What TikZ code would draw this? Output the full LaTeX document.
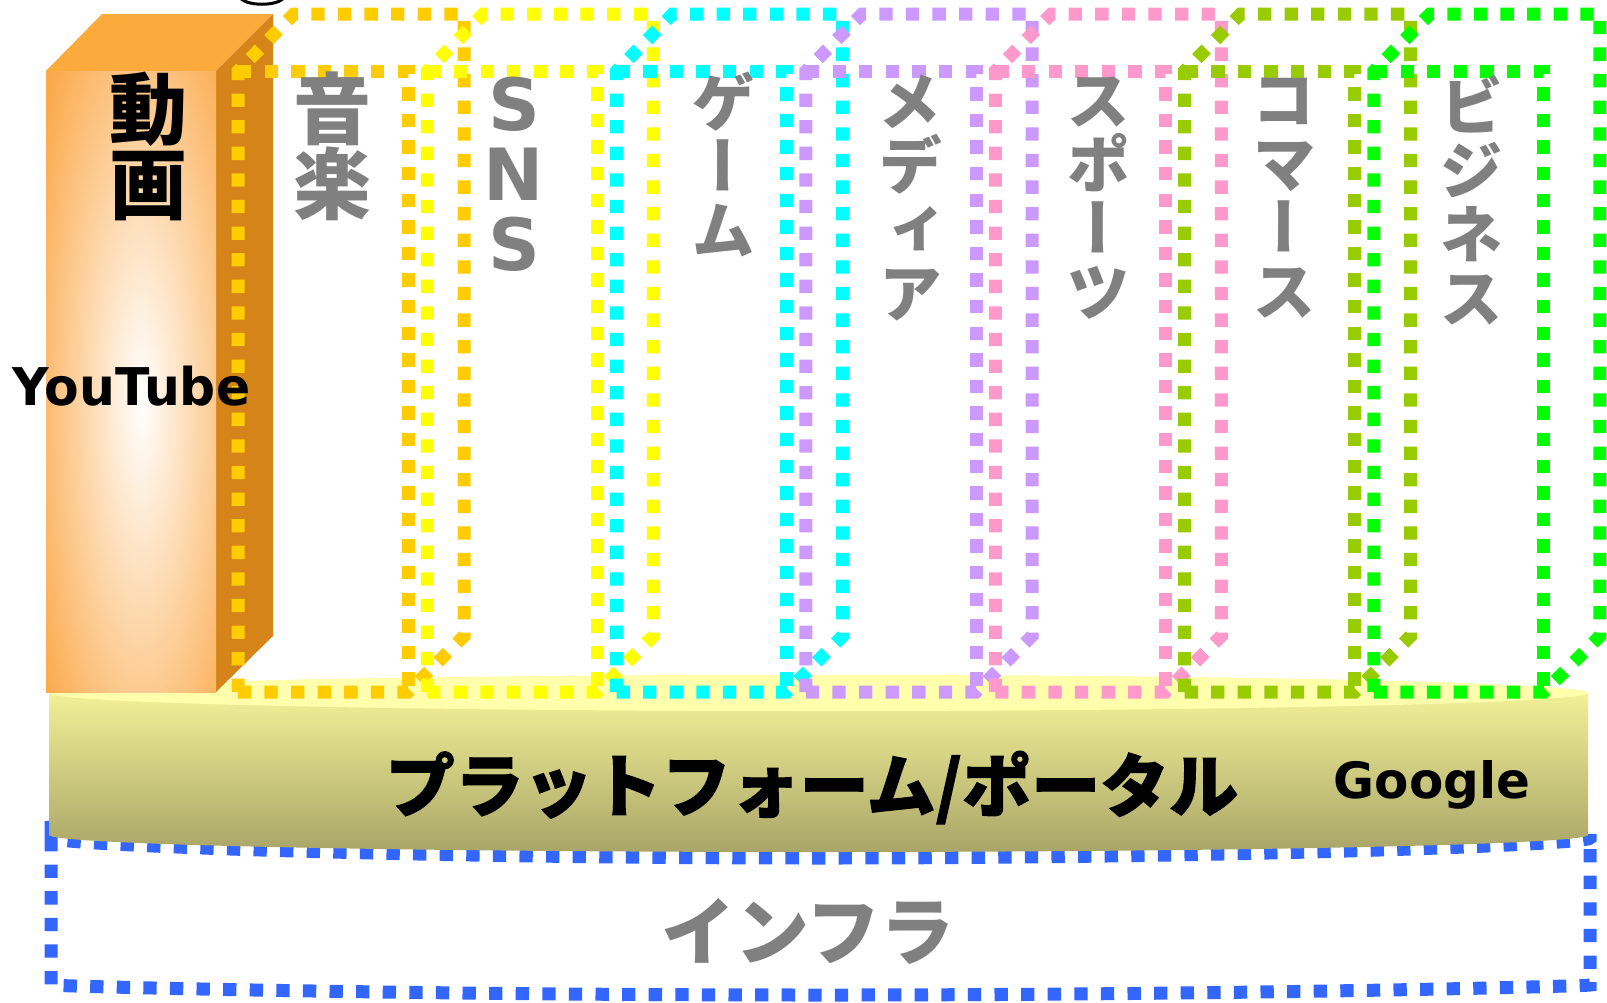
\documentclass[tikz,border=0pt]{standalone}
\usepackage{fontspec}
\usetikzlibrary{calc}
\newfontfamily\jp{Noto Sans CJK JP}
\newfontfamily\jpheavy{Noto Sans CJK JP}[BoldFeatures={FakeBold=1.5}]
\newfontfamily\jpv{Noto Sans CJK JP}[RawFeature=+vert]
\newfontfamily\dvs{DejaVu Sans}
\definecolor{cgold}{HTML}{FFCC00}
\definecolor{cyel}{HTML}{FFFF00}
\definecolor{ccyan}{HTML}{00FFFF}
\definecolor{clav}{HTML}{CC99FF}
\definecolor{cpink}{HTML}{FF99CC}
\definecolor{cyg}{HTML}{99CC00}
\definecolor{cgrn}{HTML}{00FF00}
\definecolor{cblue}{HTML}{3366FF}
\definecolor{txtgray}{HTML}{808080}
\definecolor{orfront}{HTML}{FBA94A}
\definecolor{ortop}{HTML}{FBAA3C}
\definecolor{orside}{HTML}{D5841A}
\definecolor{pftop}{HTML}{FAF99C}
\definecolor{pfmid}{HTML}{DCD983}
\definecolor{pfbot}{HTML}{A9A568}
\definecolor{pfpale}{HTML}{FFFFAC}
\tikzset{
  dotbox/.style={line width=13pt, dash pattern=on 13.3pt off 13.3pt},
  infraline/.style={draw=cblue, line width=13pt, dash pattern=on 13.3pt off 13.3pt, rounded corners=10pt},
  catlabel/.style={text=txtgray, font=\jpv\bfseries\fontsize{64}{64}\selectfont, align=center, anchor=north, inner sep=0pt},
  biglabel/.style={font=\jp\bfseries\fontsize{78}{75}\selectfont, align=center, anchor=north, inner sep=0pt},
}
\begin{document}
\begin{tikzpicture}[x=1pt,y=-1pt]
\useasboundingbox (0,0) rectangle (1607,1002);
\fill[white] (0,0) rectangle (1607,1002);

% infrastructure (blue dashed can)
\draw[infraline] (51,828) -- (51,975) arc[start angle=180,end angle=0,x radius=769.5,y radius=20]
  -- (1590,828) arc[start angle=0,end angle=180,x radius=769.5,y radius=30] -- cycle;

% platform
\shade[top color=pftop, middle color=pfmid, bottom color=pfbot]
  (49,693) -- (49,835) arc[start angle=180,end angle=0,x radius=769.5,y radius=17]
  -- (1588,693) arc[start angle=0,end angle=-180,x radius=769.5,y radius=18] -- cycle;
\fill[pfpale] (818.5,693) ellipse [x radius=769.5, y radius=18];

% orange solid prism
\fill[ortop] (46,71) -- (102,14) -- (273,14) -- (216,71) -- cycle;
\fill[orside] (216,71) -- (273,14) -- (273,636) -- (216,692) -- cycle;
\begin{scope}
  \clip (46,71) rectangle (216,692);
  \shade[inner color=white, outer color=orfront] (20,-80) rectangle (262,880);
\end{scope}

% black arc at top edge
\draw[line width=3pt] (241,-1) .. controls (250,6) and (274,6) .. (283,-1);

% dotted hollow prisms
\foreach \c [count=\i from 0] in {cgold,cyel,ccyan,clav,cpink,cyg,cgrn} {
  \pgfmathsetmacro\L{238+189.33*\i}
  \pgfmathsetmacro\R{\L+170}
  \draw[dotbox,draw=\c] (\L,692) -- (\L,71) -- (\L+56,14) -- (\R+56,14) -- (\R+56,636) -- (\R,692) -- cycle;
  \draw[dotbox,draw=\c] (\L,71) -- (\R,71) -- (\R,692);
}

% texts
\node[biglabel, text=black] (douga) at (148,72) {動\\画};
\node[anchor=base, inner sep=0pt, font=\dvs\bfseries\fontsize{52}{52}\selectfont] (youtube) at (131.5,405) {\scalebox{0.97}[1]{YouTube}};
\node[biglabel, text=txtgray] (ongaku) at (332,72) {音\\楽};
\node[anchor=north, inner sep=0pt, align=center, text=txtgray, font=\dvs\bfseries\fontsize{72}{70}\selectfont] (sns) at (514,77) {S\\N\\S};
\node[catlabel] (game) at (723,72) {ゲ\\ー\\ム};
\node[catlabel] (media) at (910,75) {メ\\デ\\ィ\\ア};
\node[catlabel] (sports) at (1098,77) {ス\\ポ\\ー\\ツ};
\node[catlabel] (commerce) at (1284,78) {コ\\マ\\ー\\ス};
\node[catlabel] (business) at (1471,75) {ビ\\ジ\\ネ\\ス};

\node[inner sep=0pt, font=\jpheavy\bfseries\fontsize{69}{69}\selectfont] (platform) at (812,787.5) {プラットフォーム/ポータル};
\node[anchor=base, inner sep=0pt, font=\dvs\bfseries\fontsize{50}{50}\selectfont] (google) at (1432,798) {Google};
\node[inner sep=0pt, text=txtgray, font=\jp\bfseries\fontsize{74}{74}\selectfont] (infra) at (808,931) {インフラ};
\end{tikzpicture}
\end{document}
